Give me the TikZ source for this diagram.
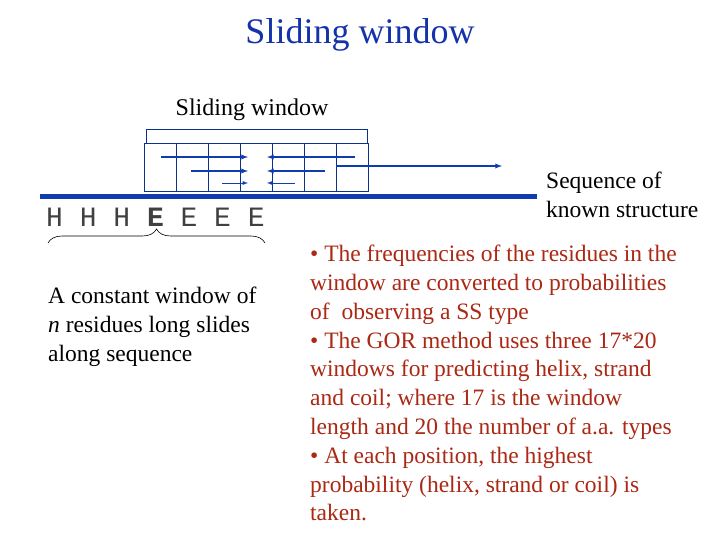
\documentclass[tikz,border=0pt]{standalone}
\usepackage{fontspec}
\setmainfont{Liberation Serif}
\setmonofont{Liberation Mono}
\usetikzlibrary{decorations.pathreplacing}
\definecolor{tblue}{RGB}{20,50,170}
\definecolor{bl}{RGB}{15,60,175}
\definecolor{tred}{RGB}{170,40,20}
\begin{document}
\begin{tikzpicture}[x=1pt,y=-1pt,
  arr/.style={draw=bl,line width=1.3pt,-latex},
  grid/.style={draw=bl!80!black,line width=0.6pt},
  body/.style={font=\fontsize{23.5}{28.8}\selectfont,align=left,anchor=north west,inner sep=0}]
\useasboundingbox (0,0) rectangle (720,540);
\node[text=tblue,font=\fontsize{36}{40}\selectfont] (title) at (360,35) {Sliding window};
\node[font=\fontsize{24}{26}\selectfont] (sub) at (252,110) {Sliding window};
\draw[grid] (146,143) -- (146,129) -- (367,129) -- (367,143);
\draw[grid] (144,143) rectangle (368,191);
\foreach \x in {176,208,240,272,304,336} \draw[grid] (\x,143) -- (\x,191);
\coordinate (a1) at (161,157); \coordinate (b1) at (248,157);
\coordinate (c1) at (355,157); \coordinate (d1) at (267,157);
\coordinate (a2) at (191,171); \coordinate (b2) at (248,171);
\coordinate (c2) at (325,171); \coordinate (d2) at (267,171);
\coordinate (a3) at (222,183); \coordinate (b3) at (248,183);
\coordinate (c3) at (295,183); \coordinate (d3) at (267,183);
\coordinate (l1) at (336,166); \coordinate (l2) at (502,166);
\draw[arr] (a1) -- (b1); \draw[arr] (c1) -- (d1);
\draw[arr] (a2) -- (b2); \draw[arr] (c2) -- (d2);
\draw[arr,line width=0.9pt] (a3) -- (b3); \draw[arr,line width=0.9pt] (c3) -- (d3);
\draw[arr] (l1) -- (l2);
\fill[bl] (40,194) rectangle (537,199);
\node[font=\ttfamily\fontsize{28}{30}\selectfont,anchor=west,inner sep=0,text=black!75] (seq) at (46,217) {H H H \textbf{E} E E E};
\draw[line width=0.6pt,decorate,decoration={brace,amplitude=14pt,aspect=0.5}] (48,243) -- (265,243);
\node[body] (left) at (48,287) {A constant window of\\\textit{n} residues long slides\\along sequence};
\node[body] (known) at (546,172) {Sequence of\\known structure};
\node[body,text=tred] (right) at (310,245) {• The frequencies of the residues in the\\window are converted to probabilities\\of \ observing a SS type\\• The GOR method uses three 17*20\\windows for predicting helix, strand\\and coil; where 17 is the window\\length and 20 the number of a.a. types\\• At each position, the highest\\probability (helix, strand or coil) is\\taken.};
\end{tikzpicture}
\end{document}
